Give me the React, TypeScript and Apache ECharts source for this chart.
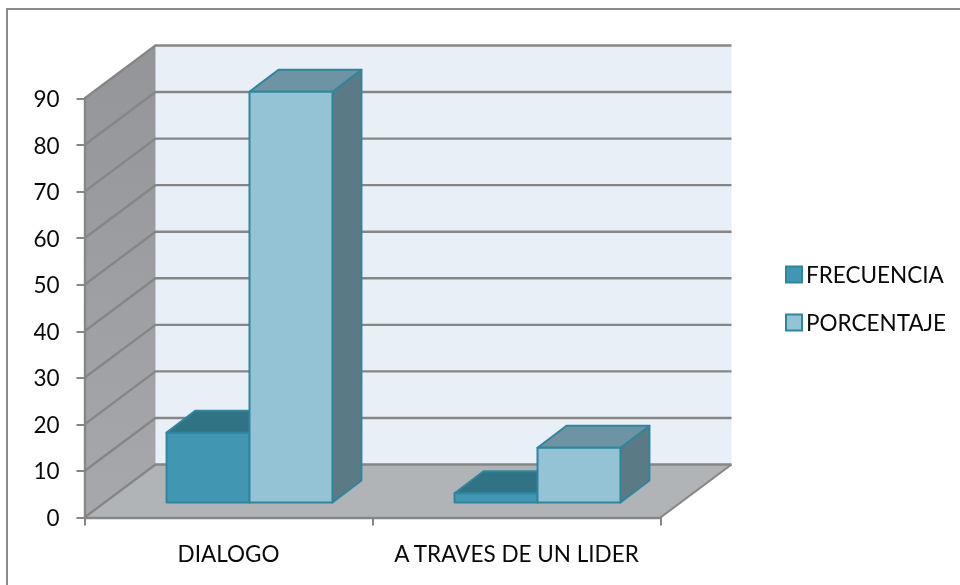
import React, { useEffect, useRef } from "react";
import * as echarts from "echarts";

const categories = ["DIALOGO", "A TRAVES DE UN LIDER"];
const frecuencia = [15, 2];
const porcentaje = [88.24, 11.76];
const yTicks = [0, 10, 20, 30, 40, 50, 60, 70, 80, 90];

const WALL_DX = 71;
const WALL_DY = -53;
const BAR_DX = 21;
const BAR_DY = -15;
const DEPTH_DX = 29;
const DEPTH_DY = -22;
const BAR_FRAC = 0.288;

const LINE = "#868686";
const BAR_STROKE = "#31859c";

function poly(points: number[][], fill: string, stroke?: string, lineWidth = 2) {
  return {
    type: "polygon",
    shape: { points },
    style: { fill, stroke: stroke || "none", lineWidth, lineJoin: "round" },
  };
}

function bar3d(slot: number, front: string, top: string, side: string) {
  return (params: any, api: any) => {
    const cat = api.value(0);
    const val = api.value(1);
    const w = api.size([1, 0])[0] * BAR_FRAC;
    const base = api.coord([cat, 0]);
    const head = api.coord([cat, val]);
    const x0 = base[0] + BAR_DX + slot * w;
    const x1 = x0 + w;
    const yb = base[1] + BAR_DY;
    const yt = head[1] + BAR_DY;
    return {
      type: "group",
      children: [
        poly(
          [
            [x1, yt],
            [x1 + DEPTH_DX, yt + DEPTH_DY],
            [x1 + DEPTH_DX, yb + DEPTH_DY],
            [x1, yb],
          ],
          side,
          BAR_STROKE
        ),
        poly(
          [
            [x0, yt],
            [x0 + DEPTH_DX, yt + DEPTH_DY],
            [x1 + DEPTH_DX, yt + DEPTH_DY],
            [x1, yt],
          ],
          top,
          BAR_STROKE
        ),
        poly(
          [
            [x0, yt],
            [x1, yt],
            [x1, yb],
            [x0, yb],
          ],
          front,
          BAR_STROKE
        ),
      ],
    };
  };
}

function walls(params: any, api: any) {
  const cs = params.coordSys;
  const left = cs.x;
  const right = cs.x + cs.width;
  const bottom = cs.y + cs.height;
  const top = cs.y;
  const children: any[] = [
    poly(
      [
        [left + WALL_DX, top + WALL_DY],
        [right + WALL_DX, top + WALL_DY],
        [right + WALL_DX, bottom + WALL_DY],
        [left + WALL_DX, bottom + WALL_DY],
      ],
      "#e8eff7"
    ),
    {
      type: "polygon",
      shape: {
        points: [
          [left, top],
          [left + WALL_DX, top + WALL_DY],
          [left + WALL_DX, bottom + WALL_DY],
          [left, bottom],
        ],
      },
      style: {
        fill: new echarts.graphic.LinearGradient(0, 0, 0, 1, [
          { offset: 0, color: "#939598" },
          { offset: 1, color: "#a6a8ab" },
        ]),
      },
    },
    poly(
      [
        [left, bottom],
        [left + WALL_DX, bottom + WALL_DY],
        [right + WALL_DX, bottom + WALL_DY],
        [right, bottom],
      ],
      "#b1b4b7"
    ),
  ];
  yTicks.forEach((t) => {
    const y = api.coord([0, t])[1];
    children.push({
      type: "polyline",
      shape: {
        points: [
          [left, y],
          [left + WALL_DX, y + WALL_DY],
          [right + WALL_DX, y + WALL_DY],
        ],
      },
      style: { fill: "none", stroke: LINE, lineWidth: 2.4 },
    });
  });
  children.push({
    type: "line",
    shape: { x1: right, y1: bottom, x2: right + WALL_DX, y2: bottom + WALL_DY },
    style: { stroke: LINE, lineWidth: 2 },
  });
  return { type: "group", children };
}

export default function App() {
  const ref = useRef<HTMLDivElement>(null);
  useEffect(() => {
    const chart = echarts.init(ref.current!, null, { renderer: "svg" });
    const font = "Lato";
    chart.setOption({
      animation: false,
      textStyle: { fontFamily: font },
      graphic: [
        {
          type: "polyline",
          z: -1,
          shape: { points: [[7, 585], [7, 9], [960, 9]] },
          style: { fill: "none", stroke: "#8a8a8a", lineWidth: 2 },
        },
      ],
      grid: { left: 84.5, top: 98.5, width: 576, height: 419 },
      xAxis: {
        type: "category",
        data: categories,
        z: 5,
        axisLine: { lineStyle: { color: LINE, width: 2.4 } },
        axisTick: { show: true, alignWithLabel: false, length: 8, lineStyle: { color: LINE, width: 2 } },
        axisLabel: { color: "#0a0a0a", fontSize: 22.5, fontFamily: font, margin: 24, interval: 0 },
      },
      yAxis: {
        type: "value",
        min: 0,
        max: 90,
        interval: 10,
        z: 5,
        splitLine: { show: false },
        axisLine: { show: true, lineStyle: { color: LINE, width: 2.4 } },
        axisTick: { show: true, length: 8, lineStyle: { color: LINE, width: 2 } },
        axisLabel: { color: "#0a0a0a", fontSize: 22.5, fontFamily: font, margin: 25 },
      },
      legend: {
        orient: "vertical",
        left: 785,
        top: 263,
        itemWidth: 16,
        itemHeight: 16,
        itemGap: 25,
        icon: "rect",
        data: ["FRECUENCIA", "PORCENTAJE"],
        textStyle: { color: "#0a0a0a", fontSize: 22.5, fontFamily: font, padding: [0, 0, 0, -1] },
        padding: 0,
      },
      series: [
        {
          type: "custom",
          name: "walls",
          z: 1,
          silent: true,
          clip: false,
          renderItem: walls,
          data: [0],
        },
        {
          type: "custom",
          name: "FRECUENCIA",
          z: 2,
          clip: false,
          itemStyle: { color: "#4197b1", borderColor: BAR_STROKE, borderWidth: 2 },
          renderItem: bar3d(-1, "#4197b1", "#2f7385", "#2f7385"),
          encode: { x: 0, y: 1 },
          data: frecuencia.map((v, i) => [i, v]),
        },
        {
          type: "custom",
          name: "PORCENTAJE",
          z: 3,
          clip: false,
          itemStyle: { color: "#93c3d5", borderColor: BAR_STROKE, borderWidth: 2 },
          renderItem: bar3d(0, "#93c3d5", "#6e93a3", "#5a7a85"),
          encode: { x: 0, y: 1 },
          data: porcentaje.map((v, i) => [i, v]),
        },
      ],
    });
    return () => chart.dispose();
  }, []);
  return <div ref={ref} style={{ position: "fixed", left: 0, top: 0, width: 960, height: 585 }} />;
}
